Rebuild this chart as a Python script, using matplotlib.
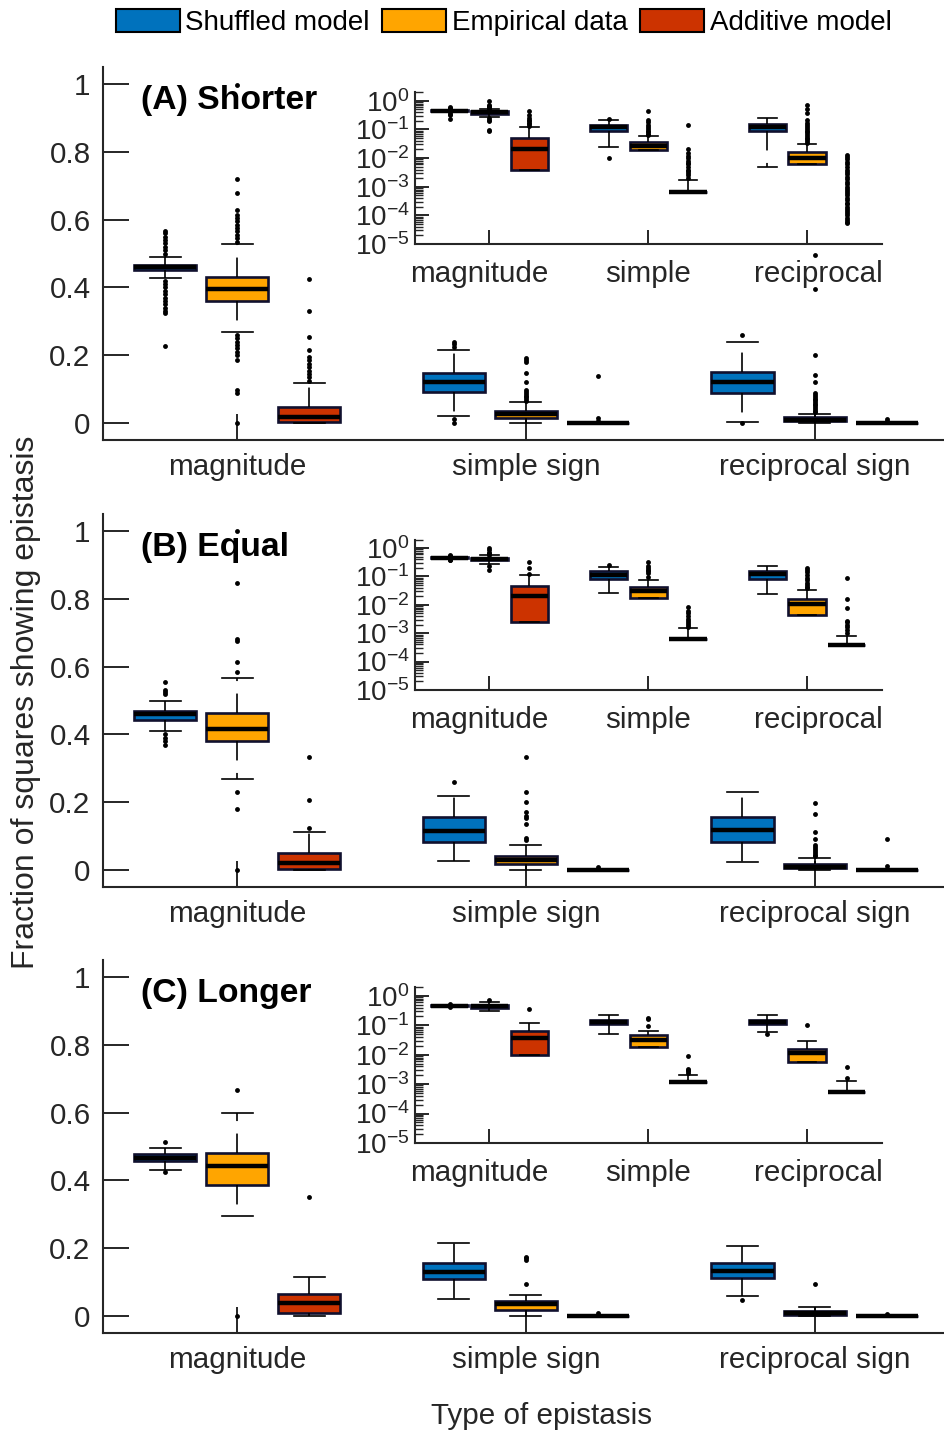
import matplotlib
matplotlib.use('Agg')
import matplotlib.pyplot as plt
from matplotlib.patches import Patch
from matplotlib.ticker import LogLocator, NullFormatter
from matplotlib.transforms import ScaledTranslation

plt.rcParams['font.family'] = ['Liberation Sans', 'DejaVu Sans']
plt.rcParams['mathtext.default'] = 'regular'
plt.rcParams['lines.scale_dashes'] = False

series = ['Shuffled model', 'Empirical data', 'Additive model']
colors = ['#0072bd', '#ffa500', '#cc3300']
types = ['magnitude', 'simple sign', 'reciprocal sign']
inset_types = ['magnitude', 'simple', 'reciprocal']
titles = ['(A) Shorter', '(B) Equal', '(C) Longer']

# order in every list: magnitude (shuffled, empirical, additive),
# simple sign (...), reciprocal sign (...)

# ---- (A) Shorter, linear axes
A_q1 = [0.452, 0.361, 0.004, 0.092, 0.014, 0, 0.089, 0.0062, 0]
A_med = [0.459, 0.396, 0.019, 0.120, 0.026, 0, 0.120, 0.0105, 0]
A_q3 = [0.465, 0.430, 0.048, 0.147, 0.036, 0, 0.151, 0.0166, 0]
A_lo = [0.428, 0.27, 0.0, 0.0215, 0.0, 0, 0.004, 0.0, 0]
A_hi = [0.490, 0.527, 0.117, 0.216, 0.061, 0, 0.240, 0.027, 0]
A_fl = [
    [0.50, 0.51, 0.52, 0.53, 0.54, 0.55, 0.56, 0.567,
     0.42, 0.41, 0.40, 0.39, 0.38, 0.37, 0.36, 0.35, 0.34, 0.33, 0.324, 0.227],
    [0.535, 0.545, 0.555, 0.565, 0.575, 0.585, 0.595, 0.605, 0.615, 0.628, 0.678, 0.720, 0.997,
     0.26, 0.25, 0.24, 0.23, 0.22, 0.21, 0.20, 0.186, 0.097, 0.088, 0.0],
    [0.125, 0.135, 0.145, 0.155, 0.165, 0.175, 0.186, 0.196, 0.215, 0.253, 0.330, 0.424],
    [0.225, 0.232, 0.238, 0.012, 0.0],
    [0.066, 0.071, 0.076, 0.081, 0.086, 0.091, 0.097, 0.120, 0.147, 0.181, 0.187, 0.193],
    [0.007, 0.014, 0.140],
    [0.260, 0.0],
    [0.032, 0.037, 0.042, 0.047, 0.052, 0.057, 0.062, 0.067, 0.072, 0.077, 0.082, 0.089,
     0.122, 0.142, 0.20, 0.395, 0.496],
    [0.006, 0.011],
]

# ---- (A) Shorter, log inset
Ai_q1 = [0.452, 0.361, 0.004, 0.092, 0.0188, 6.6e-4, 0.089, 0.0062, 1e-7]
Ai_med = [0.459, 0.396, 0.020, 0.120, 0.026, 6.6e-4, 0.120, 0.0105, 1e-7]
Ai_q3 = [0.465, 0.430, 0.052, 0.147, 0.0366, 6.6e-4, 0.151, 0.0166, 1e-7]
Ai_lo = [0.428, 0.27, 0.004, 0.0245, 0.0188, 6.6e-4, 0.0049, 0.0062, 1e-7]
Ai_hi = [0.490, 0.527, 0.119, 0.22, 0.061, 1.7e-3, 0.25, 0.030, 1e-7]
Ai_fl = [
    [0.50, 0.52, 0.54, 0.567, 0.60, 0.40, 0.36, 0.32, 0.227],
    [0.55, 0.58, 0.62, 0.68, 0.72, 1.0, 0.25, 0.22, 0.19, 0.097, 0.088],
    [0.13, 0.15, 0.17, 0.19, 0.215, 0.253, 0.33, 0.45],
    [0.238, 0.0105],
    [0.065, 0.07, 0.08, 0.09, 0.10, 0.12, 0.147, 0.181, 0.21, 0.43],
    [0.002, 0.0025, 0.003, 0.0035, 0.004, 0.005, 0.006, 0.007, 0.008, 0.01, 0.012,
     0.015, 0.02, 0.148],
    [],
    [0.034, 0.04, 0.045, 0.05, 0.06, 0.07, 0.08, 0.09, 0.1, 0.12, 0.14, 0.17, 0.21,
     0.39, 0.53, 0.70],
    [5.3e-5, 6e-5, 7e-5, 8e-5, 1e-4, 1.2e-4, 1.4e-4, 1.7e-4, 2e-4, 2.4e-4, 2.8e-4,
     3.4e-4, 4e-4, 5e-4, 6e-4, 7e-4, 8.5e-4, 1e-3, 1.2e-3, 1.5e-3, 1.8e-3, 2.2e-3,
     2.7e-3, 3.3e-3, 4e-3, 5e-3, 6e-3, 7.5e-3, 9e-3, 1.1e-2, 1.26e-2],
]

# ---- (B) Equal, linear axes
B_q1 = [0.443, 0.379, 0.0024, 0.082, 0.018, 0, 0.082, 0.0045, 0]
B_med = [0.461, 0.416, 0.022, 0.116, 0.030, 0, 0.118, 0.010, 0]
B_q3 = [0.470, 0.463, 0.049, 0.155, 0.042, 0, 0.155, 0.017, 0]
B_lo = [0.409, 0.268, 0.0, 0.027, 0.0, 0, 0.024, 0.0, 0]
B_hi = [0.497, 0.567, 0.113, 0.217, 0.074, 0, 0.230, 0.035, 0]
B_fl = [
    [0.52, 0.526, 0.532, 0.554, 0.402, 0.39, 0.38, 0.369],
    [0.584, 0.613, 0.675, 0.680, 0.845, 1.0, 0.231, 0.181, 0.0],
    [0.123, 0.207, 0.333],
    [0.261],
    [0.090, 0.094, 0.136, 0.153, 0.160, 0.172, 0.202, 0.231, 0.333],
    [0.01],
    [],
    [0.040, 0.044, 0.050, 0.056, 0.062, 0.068, 0.074, 0.091, 0.113, 0.166, 0.199],
    [0.012, 0.091],
]

# ---- (B) Equal, log inset
Bi_q1 = [0.443, 0.379, 0.0024, 0.082, 0.018, 6.1e-4, 0.082, 0.0045, 3.7e-4]
Bi_med = [0.461, 0.416, 0.020, 0.116, 0.030, 6.1e-4, 0.118, 0.011, 3.7e-4]
Bi_q3 = [0.470, 0.463, 0.048, 0.155, 0.042, 6.1e-4, 0.155, 0.016, 3.7e-4]
Bi_lo = [0.409, 0.268, 0.0024, 0.027, 0.018, 6.1e-4, 0.0245, 0.0045, 3.7e-4]
Bi_hi = [0.497, 0.567, 0.11, 0.217, 0.074, 1.5e-3, 0.230, 0.033, 8.3e-4]
Bi_fl = [
    [0.52, 0.532, 0.554, 0.40, 0.38, 0.369],
    [0.584, 0.613, 0.675, 0.68, 0.845, 1.0, 0.231, 0.17],
    [0.123, 0.207, 0.333],
    [0.261],
    [0.094, 0.136, 0.153, 0.172, 0.202, 0.231, 0.333],
    [1.7e-3, 2e-3, 2.3e-3, 2.7e-3, 3.2e-3, 4e-3, 5e-3, 6e-3, 8.5e-3],
    [],
    [0.038, 0.044, 0.05, 0.06, 0.074, 0.091, 0.113, 0.14, 0.166, 0.199],
    [1.0e-3, 1.3e-3, 1.6e-3, 2e-3, 2.4e-3, 2.8e-3, 8e-3, 0.016, 0.089],
]

# ---- (C) Longer, linear axes
C_q1 = [0.457, 0.387, 0.010, 0.110, 0.018, 0, 0.112, 0.003, 0]
C_med = [0.467, 0.444, 0.038, 0.131, 0.035, 0, 0.132, 0.009, 0]
C_q3 = [0.477, 0.482, 0.064, 0.156, 0.044, 0, 0.156, 0.016, 0]
C_lo = [0.432, 0.294, 0.0, 0.050, 0.0, 0, 0.059, 0.0, 0]
C_hi = [0.497, 0.600, 0.116, 0.215, 0.063, 0, 0.208, 0.028, 0]
C_fl = [
    [0.514, 0.424],
    [0.667, 0.0],
    [0.352],
    [],
    [0.094, 0.164, 0.170, 0.174],
    [0.008],
    [0.047],
    [0.094],
    [0.005],
]

# ---- (C) Longer, log inset
Ci_q1 = [0.457, 0.387, 0.010, 0.110, 0.018, 1.22e-3, 0.112, 0.0057, 5.2e-4]
Ci_med = [0.467, 0.444, 0.036, 0.131, 0.032, 1.22e-3, 0.132, 0.0113, 5.2e-4]
Ci_q3 = [0.477, 0.482, 0.064, 0.156, 0.046, 1.22e-3, 0.156, 0.0158, 5.2e-4]
Ci_lo = [0.432, 0.294, 0.010, 0.052, 0.018, 1.22e-3, 0.058, 0.0057, 5.2e-4]
Ci_hi = [0.497, 0.600, 0.12, 0.225, 0.064, 2.0e-3, 0.215, 0.029, 1.3e-3]
Ci_fl = [
    [0.514, 0.424],
    [0.71],
    [0.357],
    [],
    [0.095, 0.16, 0.175],
    [2.4e-3, 2.7e-3, 3.0e-3, 3.3e-3, 8.7e-3],
    [0.049],
    [0.1],
    [1.6e-3, 3.8e-3],
]

main_data = [(A_q1, A_med, A_q3, A_lo, A_hi, A_fl),
             (B_q1, B_med, B_q3, B_lo, B_hi, B_fl),
             (C_q1, C_med, C_q3, C_lo, C_hi, C_fl)]
inset_data = [(Ai_q1, Ai_med, Ai_q3, Ai_lo, Ai_hi, Ai_fl),
              (Bi_q1, Bi_med, Bi_q3, Bi_lo, Bi_hi, Bi_fl),
              (Ci_q1, Ci_med, Ci_q3, Ci_lo, Ci_hi, Ci_fl)]

AXC = '#262626'
EDGE = '#10102e'


def draw_boxes(ax, data, width):
    q1, med, q3, lo, hi, fl = data
    stats = [dict(q1=q1[i], med=med[i], q3=q3[i], whislo=lo[i], whishi=hi[i],
                  fliers=fl[i]) for i in range(9)]
    pos = [g + off for g in (1, 2, 3) for off in (-0.25, 0, 0.25)]
    res = ax.bxp(stats, positions=pos, widths=width, patch_artist=True,
                 manage_ticks=False,
                 boxprops=dict(edgecolor=EDGE, linewidth=1.9),
                 medianprops=dict(color='black', linewidth=3.2),
                 whiskerprops=dict(color='black', linewidth=1.2, linestyle=(0, (14, 9))),
                 capprops=dict(color='black', linewidth=1.2),
                 flierprops=dict(marker='o', markerfacecolor='black',
                                 markeredgecolor='none', markersize=3.5))
    for i, b in enumerate(res['boxes']):
        b.set_facecolor(colors[i % 3])


fig = plt.figure(figsize=(9.45, 14.32), dpi=100)

main_bottoms = [0.6927, 0.3806, 0.0691]
inset_boxes = [[0.4392, 0.8296, 0.4942, 0.106],
               [0.4392, 0.5182, 0.4942, 0.105],
               [0.4392, 0.2018, 0.4942, 0.109]]
inset_label_shift = [-10, 0, 11]  # px, as placed in the original

for p in range(3):
    ax = fig.add_axes([0.109, main_bottoms[p], 0.889, 0.2605])
    draw_boxes(ax, main_data[p], 0.215)
    ax.set_xlim(0.535, 3.445)
    ax.set_ylim(-0.05, 1.05)
    ax.set_yticks([0, 0.2, 0.4, 0.6, 0.8, 1])
    ax.set_yticklabels(['0', '0.2', '0.4', '0.6', '0.8', '1'])
    ax.set_xticks([1, 2, 3])
    ax.set_xticklabels(types)
    for s in ['top', 'right']:
        ax.spines[s].set_visible(False)
    for s in ['left', 'bottom']:
        ax.spines[s].set_linewidth(1.5)
        ax.spines[s].set_color(AXC)
    ax.tick_params(direction='in', length=18.5, width=1.4, color=AXC,
                   labelsize=21.3, labelcolor=AXC)
    ax.tick_params(axis='y', pad=9)
    ax.tick_params(axis='x', pad=9.5)
    ax.text(0.045, 0.91, titles[p], transform=ax.transAxes, fontsize=24.3,
            fontweight='bold', va='center', ha='left')

    axi = fig.add_axes(inset_boxes[p])
    axi.set_facecolor('white')
    axi.set_yscale('log')
    draw_boxes(axi, inset_data[p], 0.235)
    axi.set_xlim(0.531, 3.473)
    axi.set_ylim(1e-5, 2)
    axi.set_yticks([1e-5, 1e-4, 1e-3, 1e-2, 1e-1, 1e0])
    axi.yaxis.set_minor_locator(LogLocator(base=10, subs=range(2, 10), numticks=20))
    axi.yaxis.set_minor_formatter(NullFormatter())
    axi.set_xticks([1, 2, 3])
    axi.set_xticklabels(inset_types)
    for s in ['top', 'right']:
        axi.spines[s].set_visible(False)
    for s in ['left', 'bottom']:
        axi.spines[s].set_linewidth(1.5)
        axi.spines[s].set_color(AXC)
    axi.tick_params(which='major', direction='in', length=10, width=1.4, color=AXC,
                    labelsize=20, labelcolor=AXC)
    axi.tick_params(which='minor', direction='in', length=6, width=1.0, color=AXC)
    axi.tick_params(axis='y', pad=4)
    axi.tick_params(axis='x', pad=11.5, labelsize=21.3)
    for lab, dx in zip(axi.get_xticklabels(), inset_label_shift):
        lab.set_transform(lab.get_transform() +
                          ScaledTranslation(dx / 100, 0, fig.dpi_scale_trans))

handles = [Patch(facecolor=c, edgecolor='black', linewidth=1.5) for c in colors]
fig.legend(handles, series, loc='center', bbox_to_anchor=(0.533, 0.9843), ncol=3,
           frameon=False, fontsize=20, handlelength=2.3, handleheight=0.9,
           handletextpad=0.2, columnspacing=0.45, borderaxespad=0, borderpad=0)

fig.text(0.027, 0.5094, 'Fraction of squares showing epistasis', rotation=90,
         ha='center', va='center', fontsize=23, color=AXC)
fig.text(0.5735, 0.0112, 'Type of epistasis', ha='center', va='center',
         fontsize=21.3, color=AXC)

fig.savefig('out.png', dpi=100)
